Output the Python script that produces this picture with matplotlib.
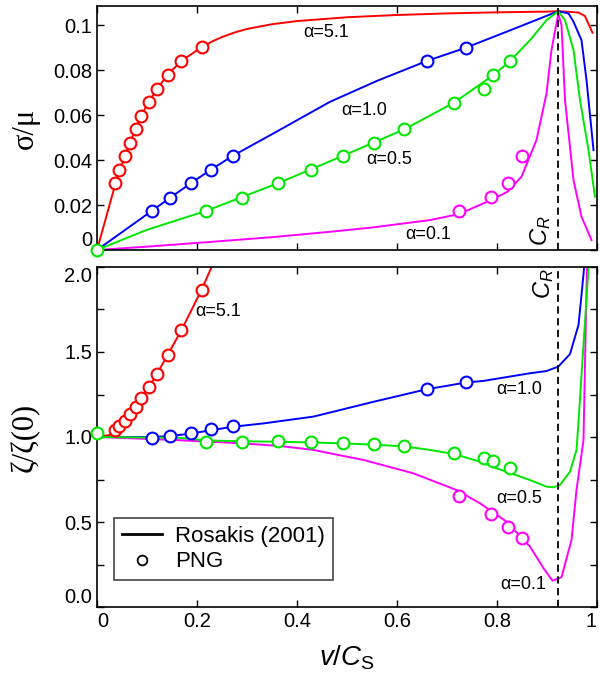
import matplotlib
matplotlib.use("Agg")
import matplotlib.pyplot as plt
from matplotlib.lines import Line2D
from matplotlib.ticker import MultipleLocator

plt.rcParams['font.family'] = ['Liberation Sans', 'DejaVu Sans']
plt.rcParams['mathtext.fontset'] = 'custom'
plt.rcParams['mathtext.rm'] = 'Liberation Sans'
plt.rcParams['mathtext.it'] = 'Liberation Sans:italic'

# ---------------- data ----------------
v_R = 0.9226

# alpha = 5.1 (red)
red_mv = [0.037, 0.045, 0.057, 0.066, 0.077, 0.088, 0.103, 0.120, 0.141, 0.168, 0.209]
red_msig = [0.0296, 0.0356, 0.0418, 0.0477, 0.0538, 0.0597, 0.0656, 0.0716, 0.0778, 0.084, 0.0901]
red_mzeta = [1.041, 1.067, 1.096, 1.133, 1.178, 1.227, 1.292, 1.371, 1.482, 1.629, 1.865]
red_cv = [0, 0.037, 0.045, 0.057, 0.066, 0.077, 0.088, 0.103, 0.120, 0.141, 0.168, 0.209,
          0.23, 0.25, 0.275, 0.30, 0.35, 0.40, 0.50, 0.60, 0.70, 0.80, 0.90, 0.9226, 0.963, 0.976, 0.991]
red_csig = [0, 0.0296, 0.0356, 0.0418, 0.0477, 0.0538, 0.0597, 0.0656, 0.0716, 0.0778, 0.084, 0.0901,
            0.0927, 0.0947, 0.0967, 0.0983, 0.1004, 0.1018, 0.1035, 0.1045, 0.1052, 0.1057, 0.1060,
            0.1062, 0.1056, 0.1040, 0.0966]
red_zv = [0, 0.026, 0.036, 0.045, 0.056, 0.065, 0.077, 0.088, 0.104, 0.120, 0.141, 0.169, 0.209, 0.228, 0.245]
red_zeta = [1.0, 1.012, 1.041, 1.067, 1.096, 1.133, 1.178, 1.227, 1.292, 1.371, 1.482, 1.629, 1.865, 1.992, 2.12]

# alpha = 1.0 (blue)
blue_mv = [0.109, 0.146, 0.187, 0.227, 0.271, 0.659, 0.737]
blue_msig = [0.0173, 0.0232, 0.0296, 0.0356, 0.0418, 0.084, 0.0899]
blue_mzeta = [0.996, 1.006, 1.022, 1.045, 1.065, 1.28, 1.322]
blue_cv = [0, 0.109, 0.146, 0.187, 0.227, 0.271, 0.35, 0.466, 0.56, 0.659, 0.737, 0.83,
           0.9226, 0.943, 0.953, 0.969, 0.979, 0.993]
blue_csig = [0, 0.0173, 0.0232, 0.0296, 0.0356, 0.0418, 0.0515, 0.0659, 0.0752, 0.084, 0.0899, 0.0980,
             0.1062, 0.1052, 0.1015, 0.0933, 0.0756, 0.0444]
blue_zv = [0, 0.111, 0.148, 0.188, 0.228, 0.271, 0.333, 0.433, 0.55, 0.658, 0.737, 0.773, 0.866,
           0.899, 0.9226, 0.946, 0.963, 0.969, 0.974, 0.98]
blue_zeta = [1.0, 1.0, 1.006, 1.02, 1.04, 1.06, 1.08, 1.12, 1.205, 1.28, 1.32, 1.33, 1.375,
             1.388, 1.414, 1.488, 1.659, 1.835, 1.99, 2.3]

# alpha = 0.5 (green)
green_mv = [0, 0.217, 0.289, 0.361, 0.428, 0.491, 0.553, 0.614, 0.714, 0.774, 0.792, 0.826]
green_msig = [0, 0.0173, 0.0232, 0.0296, 0.0356, 0.0418, 0.0474, 0.0536, 0.0655, 0.0714, 0.0778, 0.084]
green_mzeta = [1.025, 0.973, 0.973, 0.976, 0.969, 0.967, 0.957, 0.947, 0.904, 0.875, 0.859, 0.82]
green_cv = [0, 0.099, 0.217, 0.361, 0.491, 0.614, 0.714, 0.793, 0.826, 0.866, 0.899, 0.9226,
            0.936, 0.953, 0.966, 0.983, 0.996]
green_csig = [0, 0.0089, 0.0173, 0.0296, 0.0418, 0.0536, 0.0655, 0.0778, 0.084, 0.0933, 0.1022, 0.1062,
              0.1022, 0.0889, 0.0667, 0.0444, 0.0237]
green_zv = [0, 0.166, 0.217, 0.289, 0.361, 0.428, 0.486, 0.553, 0.614, 0.666, 0.714, 0.766, 0.799,
            0.866, 0.899, 0.913, 0.926, 0.946, 0.959, 0.963, 0.979, 0.983, 0.99]
green_zeta = [1.0, 0.995, 0.98, 0.975, 0.972, 0.968, 0.963, 0.955, 0.945, 0.924, 0.900, 0.855, 0.816,
              0.747, 0.708, 0.704, 0.718, 0.796, 0.924, 1.09, 1.816, 1.99, 2.3]

# alpha = 0.1 (magenta)
mag_mv = [0.724, 0.788, 0.821, 0.849]
mag_msig = [0.0175, 0.0234, 0.0299, 0.0418]
mag_mzeta = [0.653, 0.547, 0.469, 0.404]
mag_cv = [0, 0.1, 0.233, 0.35, 0.466, 0.55, 0.666, 0.724, 0.788, 0.821, 0.849, 0.879, 0.899, 0.909,
          0.9226, 0.929, 0.936, 0.953, 0.969, 0.989]
mag_csig = [0, 0.0015, 0.0037, 0.0057, 0.0081, 0.0100, 0.0133, 0.0160, 0.0222, 0.0259, 0.0326, 0.0489,
            0.0696, 0.0889, 0.1050, 0.1000, 0.0667, 0.0311, 0.0148, 0.0044]
mag_zv = [0, 0.159, 0.289, 0.366, 0.433, 0.466, 0.533, 0.633, 0.719, 0.766, 0.819, 0.866, 0.893,
          0.911, 0.929, 0.949, 0.959, 0.973, 0.979, 0.983]
mag_zeta = [1.0, 0.982, 0.963, 0.947, 0.924, 0.904, 0.865, 0.786, 0.688, 0.61, 0.502, 0.355, 0.228,
            0.155, 0.175, 0.394, 0.688, 0.982, 1.876, 2.3]

x_ticks = [0, 0.2, 0.4, 0.6, 0.8, 1.0]
x_ticklabels = ['0', '0.2', '0.4', '0.6', '0.8', '1']
top_yticks = [0, 0.02, 0.04, 0.06, 0.08, 0.1]
top_yticklabels = ['0', '0.02', '0.04', '0.06', '0.08', '0.1']
bot_yticks = [0, 0.5, 1.0, 1.5, 2.0]
bot_yticklabels = ['0.0', '0.5', '1.0', '1.5', '2.0']

RED, BLUE, GREEN, MAG = '#ff0000', '#0000ff', '#00e600', '#ff00ff'
LW = 1.4
MS = 8.5
MEW = 1.5

W, H = 600, 677
fig = plt.figure(figsize=(W / 100, H / 100), dpi=100)
ax1 = fig.add_axes([97 / W, 1 - 250 / H, 500 / W, 244 / H])
ax2 = fig.add_axes([97 / W, 1 - 607 / H, 500 / W, 340 / H])

series = [
    (red_cv, red_csig, red_zv, red_zeta, red_mv, red_msig, red_mzeta, RED),
    (blue_cv, blue_csig, blue_zv, blue_zeta, blue_mv, blue_msig, blue_mzeta, BLUE),
    (mag_cv, mag_csig, mag_zv, mag_zeta, mag_mv, mag_msig, mag_mzeta, MAG),
    (green_cv, green_csig, green_zv, green_zeta, green_mv, green_msig, green_mzeta, GREEN),
]

for cv, cs, zv, zz, mv, ms, mz, c in series:
    ax1.plot(cv, cs, color=c, lw=LW, zorder=2)
    ax2.plot(zv, zz, color=c, lw=LW, zorder=2)
for cv, cs, zv, zz, mv, ms, mz, c in series:
    ax1.plot(mv, ms, ls='none', marker='o', ms=MS, mfc='white', mec=c, mew=MEW, zorder=4, clip_on=False)
    ax2.plot(mv, mz, ls='none', marker='o', ms=MS, mfc='white', mec=c, mew=MEW, zorder=4, clip_on=False)

for ax in (ax1, ax2):
    ax.axvline(v_R, color='black', ls=(0, (4, 2.5)), lw=1.3, zorder=3)
    ax.set_xlim(0, 1)
    ax.set_xticks(x_ticks)
    ax.tick_params(which='both', direction='in', top=True, right=True, length=5, width=1.0,
                   labelsize=14.5)
    for sp in ax.spines.values():
        sp.set_linewidth(1.2)

ax1.set_ylim(0, 0.1085)
ax1.set_yticks(top_yticks)
ax1.set_yticklabels(top_yticklabels)
ax1.set_xticklabels([])
ax1.yaxis.get_major_ticks()[0].label1.set_verticalalignment('bottom')

ax2.set_ylim(0, 2.0)
ax2.set_yticks(bot_yticks)
ax2.set_yticklabels(bot_yticklabels)
ax2.yaxis.set_minor_locator(MultipleLocator(0.25))
ax2.set_xticklabels(x_ticklabels)
ax2.yaxis.get_major_ticks()[0].label1.set_verticalalignment('bottom')
ax2.yaxis.get_major_ticks()[-1].label1.set_verticalalignment('top')
ax2.xaxis.get_major_ticks()[0].label1.set_horizontalalignment('left')
ax2.xaxis.get_major_ticks()[-1].label1.set_horizontalalignment('right')

# annotations
fs_a = 13
ax1.text(0.412, 0.0969, 'α=5.1', fontsize=fs_a, ha='left', va='center')
ax1.text(0.489, 0.0622, 'α=1.0', fontsize=fs_a, ha='left', va='center')
ax1.text(0.539, 0.0403, 'α=0.5', fontsize=fs_a, ha='left', va='center')
ax1.text(0.616, 0.0067, 'α=0.1', fontsize=fs_a, ha='left', va='center')
ax1.text(0.912, 0.002, r'$C_R$', fontsize=17, rotation=90, ha='right', va='bottom')

ax2.text(0.196, 1.737, 'α=5.1', fontsize=fs_a, ha='left', va='center')
ax2.text(0.799, 1.28, 'α=1.0', fontsize=fs_a, ha='left', va='center')
ax2.text(0.799, 0.639, 'α=0.5', fontsize=fs_a, ha='left', va='center')
ax2.text(0.806, 0.135, 'α=0.1', fontsize=fs_a, ha='left', va='center')
ax2.text(0.918, 1.99, r'$C_R$', fontsize=17, rotation=90, ha='right', va='top')

# axis labels
fig.text(25 / W, 1 - 128 / H, 'σ/μ', rotation=90, ha='center', va='center', fontsize=22,
         family=['Liberation Serif', 'DejaVu Serif'])
fig.text(25 / W, 1 - 437 / H, 'ζ/ζ(0)', rotation=90, ha='center', va='center', fontsize=22,
         family=['Liberation Serif', 'DejaVu Serif'])
ax2.set_xlabel(r'$v$/$C_{\mathrm{S}}$', fontsize=20, labelpad=9)

handles = [Line2D([], [], color='black', lw=2.0),
           Line2D([], [], ls='none', marker='o', ms=7, mfc='white', mec='black', mew=1.3)]
leg = ax2.legend(handles, ['Rosakis (2001)', 'PNG'], loc='lower left',
                 bbox_to_anchor=(0.034, 0.079), borderaxespad=0, fontsize=16,
                 fancybox=False, framealpha=1, edgecolor='#444444', handlelength=1.8,
                 handletextpad=0.6, borderpad=0.35, labelspacing=0.2)
leg.get_frame().set_linewidth(1.2)

fig.savefig('out.png', dpi=100)
